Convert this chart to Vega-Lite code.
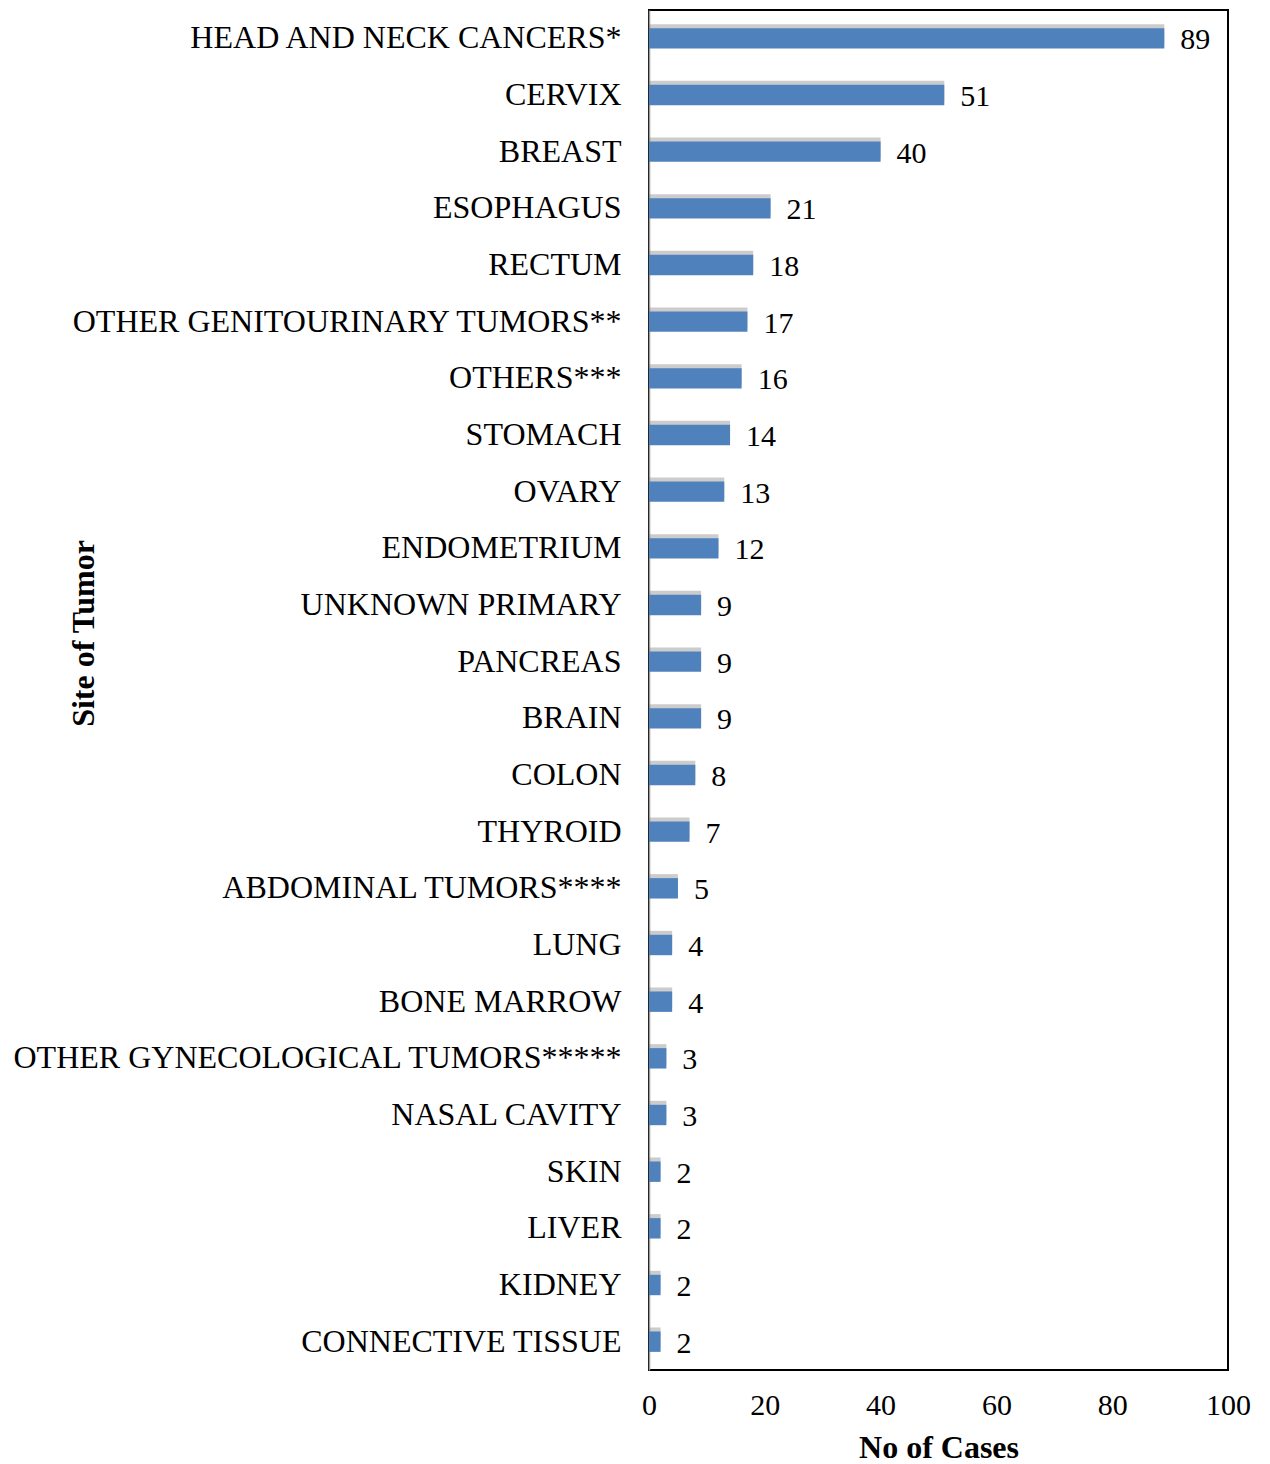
{
  "$schema": "https://vega.github.io/schema/vega-lite/v6.json",
  "autosize": {"type": "none"},
  "padding": {"left": 649, "top": 10, "right": 42, "bottom": 94},
  "width": 579,
  "height": 1360,
  "background": "white",
  "config": {
    "font": "Liberation Serif",
    "view": {"stroke": "black", "strokeWidth": 2}
  },
  "data": {
    "values": [
      {"site": "HEAD AND NECK CANCERS*", "cases": 89},
      {"site": "CERVIX", "cases": 51},
      {"site": "BREAST", "cases": 40},
      {"site": "ESOPHAGUS", "cases": 21},
      {"site": "RECTUM", "cases": 18},
      {"site": "OTHER GENITOURINARY TUMORS**", "cases": 17},
      {"site": "OTHERS***", "cases": 16},
      {"site": "STOMACH", "cases": 14},
      {"site": "OVARY", "cases": 13},
      {"site": "ENDOMETRIUM", "cases": 12},
      {"site": "UNKNOWN PRIMARY", "cases": 9},
      {"site": "PANCREAS", "cases": 9},
      {"site": "BRAIN", "cases": 9},
      {"site": "COLON", "cases": 8},
      {"site": "THYROID", "cases": 7},
      {"site": "ABDOMINAL TUMORS****", "cases": 5},
      {"site": "LUNG", "cases": 4},
      {"site": "BONE MARROW", "cases": 4},
      {"site": "OTHER GYNECOLOGICAL TUMORS*****", "cases": 3},
      {"site": "NASAL CAVITY", "cases": 3},
      {"site": "SKIN", "cases": 2},
      {"site": "LIVER", "cases": 2},
      {"site": "KIDNEY", "cases": 2},
      {"site": "CONNECTIVE TISSUE", "cases": 2}
    ]
  },
  "encoding": {
    "y": {
      "field": "site", "type": "nominal", "sort": null,
      "scale": {"paddingInner": 0.64, "paddingOuter": 0.32},
      "axis": {
        "title": "Site of Tumor",
        "titleFont": "Liberation Serif", "titleFontSize": 32, "titleFontWeight": "bold", "titleColor": "black",
        "titleX": -566, "titleY": 623, "titleAngle": -90, "titleBaseline": "middle",
        "labelFont": "Liberation Serif", "labelFontSize": 32, "labelColor": "black", "labelPadding": 28,
        "labelLimit": 700,
        "ticks": false, "domainColor": "#999999", "domainWidth": 1.5
      }
    },
    "x": {
      "field": "cases", "type": "quantitative",
      "scale": {"domain": [0, 100], "nice": false},
      "axis": {
        "title": "No of Cases",
        "titleFont": "Liberation Serif", "titleFontSize": 32, "titleFontWeight": "bold", "titleColor": "black",
        "titlePadding": 12,
        "labelFont": "Liberation Serif", "labelFontSize": 30, "labelColor": "black", "labelPadding": 20,
        "labelFlush": false,
        "values": [0, 20, 40, 60, 80, 100],
        "ticks": false, "grid": false, "domain": false
      }
    }
  },
  "layer": [
    {
      "mark": {"type": "bar", "color": "#7f7f7f", "opacity": 0.4, "yOffset": -4, "x2Offset": 4}
    },
    {
      "mark": {"type": "bar", "color": "#4f81bd"}
    },
    {
      "mark": {"type": "text", "align": "left", "baseline": "middle", "dx": 16, "dy": 2, "fontSize": 30, "font": "Liberation Serif", "color": "black"},
      "encoding": {"text": {"field": "cases", "type": "quantitative"}}
    }
  ]
}
